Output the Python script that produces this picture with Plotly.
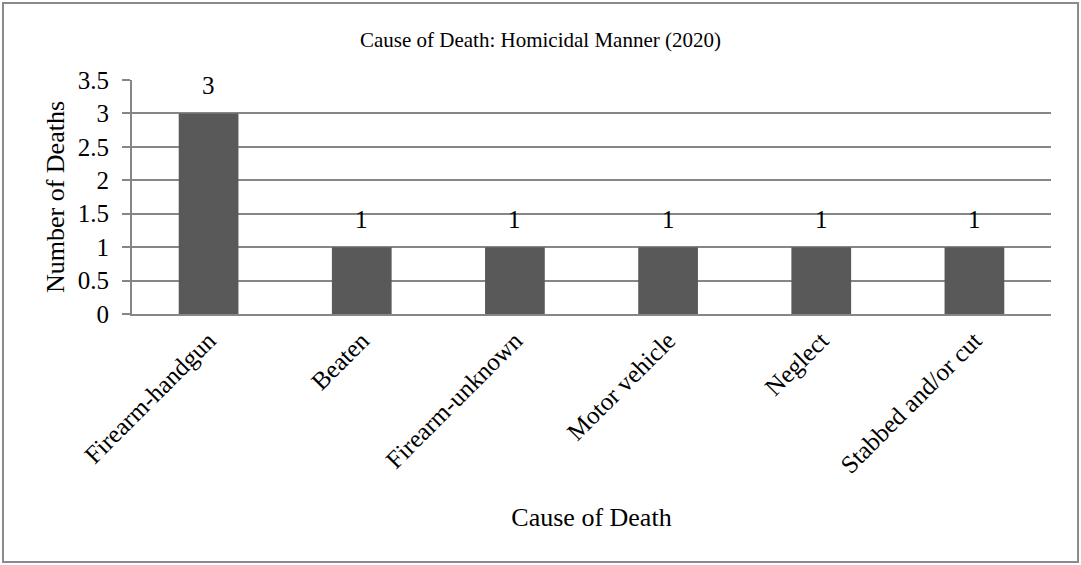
import plotly.graph_objects as go

categories = ["Firearm-handgun", "Beaten", "Firearm-unknown", "Motor vehicle", "Neglect", "Stabbed and/or cut"]
deaths = [3, 1, 1, 1, 1, 1]
y_ticks = [0, 0.5, 1, 1.5, 2, 2.5, 3, 3.5]
y_tick_labels = ["0", "0.5", "1", "1.5", "2", "2.5", "3", "3.5"]

FONT = "Liberation Serif"
W, H = 1081, 565
ML, MR, MT, MB = 132, 30, 80, 251
pw, ph = W - ML - MR, H - MT - MB

fig = go.Figure()
fig.add_trace(go.Bar(
    x=categories, y=deaths, width=0.39,
    marker=dict(color="#595959", line=dict(width=0)),
    showlegend=False, hoverinfo="skip",
))

for c, v in zip(categories, deaths):
    fig.add_annotation(x=c, y=v, text=str(v), showarrow=False,
                       yanchor="bottom", yshift=12,
                       font=dict(family=FONT, size=25, color="#000000"))

# outer chart border
fig.add_shape(type="rect", xref="paper", yref="paper",
              x0=(3 - ML) / pw, x1=(1078 - ML) / pw,
              y0=1 - (562 - MT) / ph, y1=1 - (3 - MT) / ph,
              line=dict(color="#8a8a8a", width=2), fillcolor="rgba(0,0,0,0)", layer="below")

fig.update_layout(
    width=W, height=H,
    margin=dict(l=ML, r=MR, t=MT, b=MB, autoexpand=False),
    paper_bgcolor="white", plot_bgcolor="white",
    font=dict(family=FONT, color="#000000"),
    title=dict(text="Cause of Death: Homicidal Manner (2020)", x=0.5, xanchor="center",
               y=1 - 40 / H, yanchor="middle", font=dict(family=FONT, size=21)),
    bargap=0.61,
)
fig.update_xaxes(
    showgrid=False, showline=True, linecolor="#868686", linewidth=2,
    tickangle=-45, tickfont=dict(family=FONT, size=25), ticks="",
    title=dict(text="Cause of Death", font=dict(family=FONT, size=26), standoff=30),
    automargin=False,
)
fig.update_yaxes(
    range=[0, 3.5], tickvals=y_ticks, ticktext=y_tick_labels,
    showgrid=True, gridcolor="#868686", gridwidth=2,
    showline=True, linecolor="#868686", linewidth=2,
    ticks="outside", ticklen=8, tickcolor="#868686", tickwidth=2,
    tickfont=dict(family=FONT, size=25), ticklabelstandoff=8,
    title=dict(text="Number of Deaths", font=dict(family=FONT, size=26), standoff=6),
    zeroline=False, automargin=False,
)

fig.write_html("out.html", config={"displayModeBar": False},
               post_script="document.body.style.margin='0';")
